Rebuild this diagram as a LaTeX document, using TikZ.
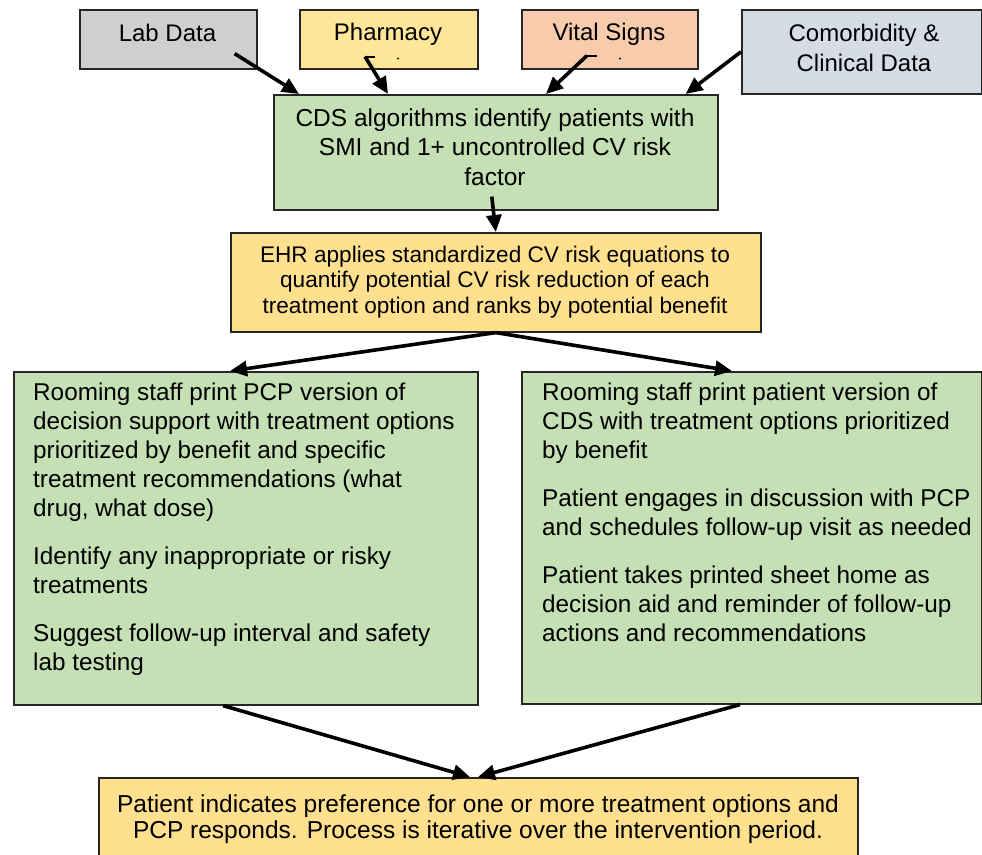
\documentclass[tikz,border=0pt]{standalone}
\usepackage{fontspec}
\setmainfont{Liberation Sans}
\usetikzlibrary{arrows.meta,calc}
\definecolor{labgray}{HTML}{D0CECE}
\definecolor{pharmyel}{HTML}{FFE699}
\definecolor{vitpeach}{HTML}{F8CBAD}
\definecolor{comblue}{HTML}{D6DCE5}
\definecolor{boxgreen}{HTML}{C5E0B4}
\definecolor{boxyel}{HTML}{FFE08F}
\definecolor{edgecol}{HTML}{262626}
\begin{document}
\begin{tikzpicture}[x=1pt,y=-1pt,
  box/.style={draw=edgecol, line width=1.6pt, inner sep=0pt, anchor=north west},
  txt/.style={inner sep=0pt, text=black},
  arr/.style={draw=black, line width=3.6pt, -{Triangle[length=17pt,width=15pt]}},
  tick/.style={draw=black, line width=2pt},
  font=\fontsize{24}{29}\selectfont]
\useasboundingbox (0,0) rectangle (982,854);

% boxes
\node[box, fill=labgray,  minimum width=177, minimum height=59] (lab)    at (79,9) {};
\node[box, fill=pharmyel, minimum width=178, minimum height=59] (pharm)  at (299,9) {};
\node[box, fill=vitpeach, minimum width=176, minimum height=59] (vital)  at (521,9) {};
\node[box, fill=comblue,  minimum width=240, minimum height=84] (comorb) at (741,9) {};
\node[box, fill=boxgreen, minimum width=444, minimum height=115] (cds)   at (273,94) {};
\node[box, fill=boxyel,   minimum width=530, minimum height=99] (ehr)    at (230,232) {};
\node[box, fill=boxgreen, minimum width=464, minimum height=333] (left)  at (13,371) {};
\node[box, fill=boxgreen, minimum width=460, minimum height=332] (right) at (521,371) {};
\node[box, fill=boxyel,   minimum width=759, minimum height=92] (bottom) at (98,777) {};

% texts
\node[txt] (labT)   at (167.5,33) {Lab Data};
\node[txt] (pharmT) at (388,34) {Pharmacy};
\node[txt] (vitalT) at (609,34) {Vital Signs};
\node[txt, align=center, font=\fontsize{24}{30}\selectfont] (comorbT) at (864,48) {Comorbidity \&\\Clinical Data};
\node[txt, align=center, font=\fontsize{24.5}{29.5}\selectfont] (cdsT) at (495,147)
  {CDS algorithms identify patients with\\SMI and 1+ uncontrolled CV risk\\factor};
\node[txt, align=center, font=\fontsize{22.6}{25.5}\selectfont] (ehrT) at (495,282)
  {EHR applies standardized CV risk equations to\\quantify potential CV risk reduction of each\\treatment option and ranks by potential benefit};
\node[txt, anchor=north west, align=left, font=\fontsize{24.3}{29}\selectfont] (leftT) at (33,383)
  {Rooming staff print PCP version of\\decision support with treatment options\\prioritized by benefit and specific\\treatment recommendations (what\\drug, what dose)\\[19pt]
   Identify any inappropriate or risky\\treatments\\[19pt]
   Suggest follow-up interval and safety\\lab testing};
\node[txt, anchor=north west, align=left, font=\fontsize{24.3}{29}\selectfont] (rightT) at (542,383)
  {Rooming staff print patient version of\\CDS with treatment options prioritized\\by benefit\\[19pt]
   Patient engages in discussion with PCP\\and schedules follow-up visit as needed\\[19pt]
   Patient takes printed sheet home as\\decision aid and reminder of follow-up\\actions and recommendations};
\node[txt, align=center, font=\fontsize{24.5}{26}\selectfont] (bottomT) at (478,819)
  {Patient indicates preference for one or more treatment options and\\PCP responds. Process is iterative over the intervention period.};

% small marks
\fill[black] ($(pharm.south west)+(99,-11)$) circle (1.1);
\fill[black] ($(vital.south west)+(99,-11)$) circle (1.1);

% connector coordinates
\coordinate (labA)  at ($(lab.south east)+(-23,-16)$);
\coordinate (phA)   at ($(pharm.south west)+(66,-13)$);
\coordinate (phT)   at ($(pharm.south west)+(76,-13)$);
\coordinate (viA)   at ($(vital.south west)+(66,-14)$);
\coordinate (viT)   at ($(vital.south west)+(76,-14)$);
\coordinate (cdsA)  at ($(cds.south)+(-4,-14)$);

% connectors
\draw[arr] (labA) -- ($(cds.north west)+(26,0)$);
\draw[tick] (phA) -- (phT);
\draw[arr] (phA) -- ($(cds.north west)+(115,0)$);
\draw[tick] (viA) -- (viT);
\draw[arr] (viA) -- ($(cds.north west)+(273,0)$);
\draw[arr] (comorb.west) -- ($(cds.north east)+(-33,0)$);
\draw[arr] (cdsA) -- (ehr.north);
\draw[arr] (ehr.south) -- ($(left.north west)+(217,0)$);
\draw[arr] (ehr.south) -- ($(right.north west)+(211,0)$);
\draw[arr] ($(left.south west)+(210,0)$) -- ($(bottom.north west)+(372,0)$);
\draw[arr] ($(right.south west)+(219,0)$) -- ($(bottom.north west)+(380,0)$);
\end{tikzpicture}
\end{document}
